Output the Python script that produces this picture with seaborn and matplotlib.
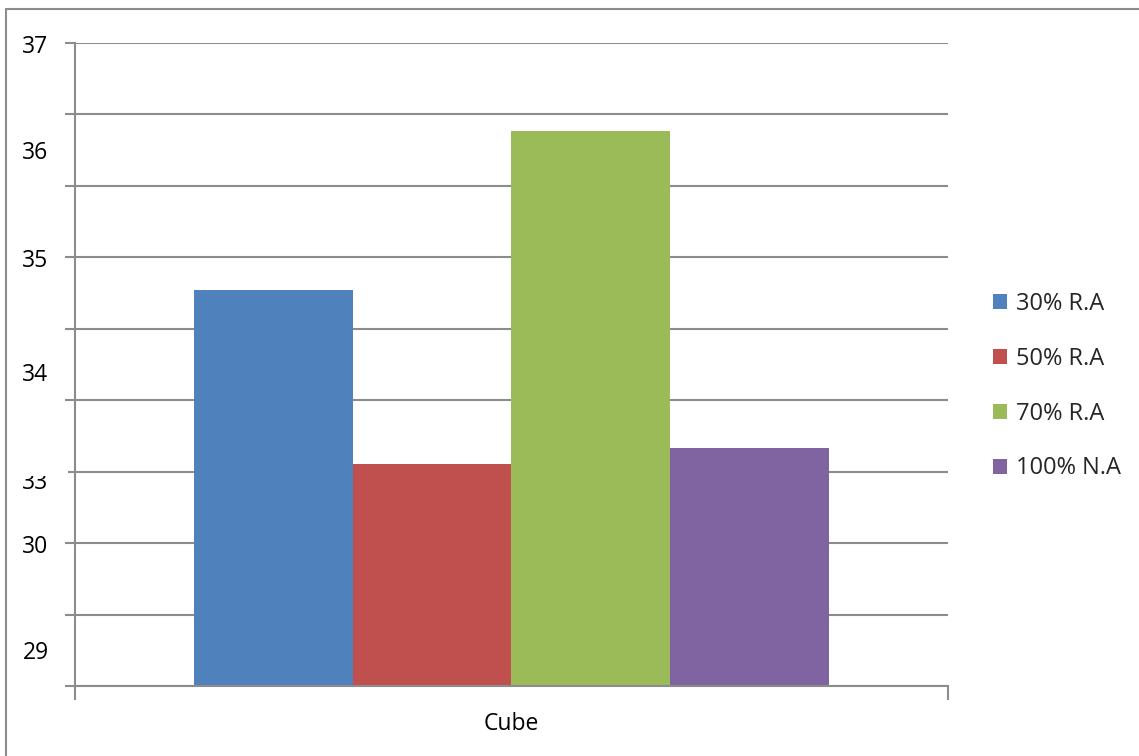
"""
Cube bar chart: four replacement levels, one category.
"""

import matplotlib
matplotlib.use("Agg")
import matplotlib.pyplot as plt
from matplotlib.lines import Line2D
from matplotlib.patches import Rectangle
import seaborn as sns
import pandas as pd

# data
category = ["Cube"]
series = ["30% R.A", "50% R.A", "70% R.A", "100% N.A"]
values = [33.54, 31.11, 35.77, 31.33]
colors = ["#4F81BD", "#C0504D", "#9BBB59", "#8064A2"]

# the y labels in the source sit off the gridlines, keep them where they are
grid_ticks = [28, 29, 30, 31, 32, 33, 34, 35, 36, 37]
label_pos = [36.99, 35.50, 33.99, 32.40, 30.89, 29.99, 28.50]
label_text = ["37", "36", "35", "34", "33", "30", "29"]

df = pd.DataFrame({
    "shape": category * len(series),
    "mix": series,
    "value": values,
})

sns.set_style("white")
plt.rcParams["font.family"] = ["Open Sans", "DejaVu Sans"]
GRAY = "#8c8c8c"

fig = plt.figure(figsize=(11.39, 7.56), dpi=100)
ax = fig.add_axes([0.0658, 0.0926, 0.7665, 0.8505])

sns.barplot(
    data=df, x="shape", y="value", hue="mix",
    hue_order=series, palette=colors, width=0.728,
    saturation=1, ax=ax, legend=True,
)
for p in ax.patches:
    p.set_edgecolor("none")

ax.set_ylim(28, 37)
ax.set_xlim(-0.5, 0.5)

# gridlines on major ticks, labels on minor ticks
ax.set_yticks(grid_ticks)
ax.set_yticklabels([""] * len(grid_ticks))
ax.set_yticks(label_pos, labels=label_text, minor=True)
ax.yaxis.grid(True, which="major", color=GRAY, linewidth=1.5)
ax.set_axisbelow(True)

ax.set_xticks([-0.5, 0.5])
ax.set_xticklabels(["", ""])
ax.set_xticks([0], labels=category, minor=True)

ax.tick_params(axis="y", which="major", left=True, length=7, width=1.5,
               color=GRAY, direction="out")
ax.tick_params(axis="y", which="minor", left=True, length=0, pad=19,
               labelsize=16.5, labelcolor="black")
ax.tick_params(axis="x", which="major", bottom=True, length=10, width=1.5,
               color=GRAY, direction="out")
ax.tick_params(axis="x", which="minor", bottom=True, length=0, pad=19,
               labelsize=16.5, labelcolor="black")

for side in ["top", "right"]:
    ax.spines[side].set_visible(False)
for side in ["left", "bottom"]:
    ax.spines[side].set_color(GRAY)
    ax.spines[side].set_linewidth(1.5)

ax.set_xlabel("")
ax.set_ylabel("")

handles, labels = ax.get_legend_handles_labels()
ax.get_legend().remove()
fig.legend(
    handles, labels, loc="center left", bbox_to_anchor=(0.853, 0.489),
    frameon=False, fontsize=17, labelspacing=1.3,
    handlelength=0.6, handleheight=0.6, handletextpad=0.4,
)

# top half of the "33" label is hidden in the source
fig.add_artist(Rectangle((0.012, 0.3704), 0.048, 0.021, transform=fig.transFigure,
                         facecolor="white", edgecolor="none", zorder=10))

# outer frame (left and top edges only visible)
fig.add_artist(Line2D([0.0053, 0.0053], [0, 0.988], transform=fig.transFigure,
                      color=GRAY, linewidth=1.5))
fig.add_artist(Line2D([0.0053, 1], [0.988, 0.988], transform=fig.transFigure,
                      color=GRAY, linewidth=1.5))

fig.savefig("out.png", dpi=100)
